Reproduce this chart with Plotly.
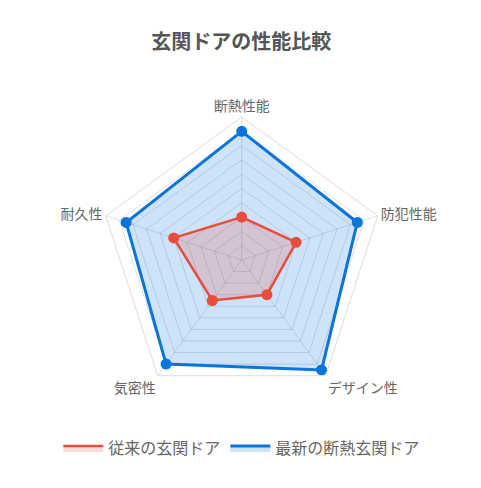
import plotly.graph_objects as go

# 性能項目（時計回り、上から）
categories = ["断熱性能", "防犯性能", "デザイン性", "気密性", "耐久性"]
old_door = [3, 4, 3, 3.5, 5]
new_door = [9, 8.5, 9.5, 9, 8.5]

series_names = ["従来の玄関ドア", "最新の断熱玄関ドア"]

RED = "#E74C3C"
BLUE = "#0A74DA"
RED_FILL = "rgba(231,76,60,0.2)"
BLUE_FILL = "rgba(10,116,218,0.2)"
FONT = "Noto Sans CJK JP"


def closed(vals):
    # 多角形を閉じるため先頭を末尾に追加
    return list(vals) + [vals[0]]


fig = go.Figure()

# Chart.jsと同じく先頭系列を上に描くため、青を先に追加
for vals, name, color, fill, width in [
        (new_door, series_names[1], BLUE, BLUE_FILL, 3),
        (old_door, series_names[0], RED, RED_FILL, 2.5)]:
    # 塗り + 線（凡例は塗りの箱）
    fig.add_trace(go.Scatterpolar(
        r=closed(vals), theta=closed(categories),
        name=name, mode="lines",
        fill="toself", fillcolor=fill,
        line=dict(color=color, width=width),
    ))
    # 頂点のマーカー
    fig.add_trace(go.Scatterpolar(
        r=vals, theta=categories,
        name=name, mode="markers", showlegend=False,
        marker=dict(color=color, size=11),
    ))

fig.update_layout(
    width=481, height=488,
    margin=dict(l=0, r=0, t=0, b=0),
    paper_bgcolor="white",
    font=dict(family=FONT, color="#666666"),
    title=dict(text="<b>玄関ドアの性能比較</b>", x=0.485, xanchor="center",
               y=0.930, yanchor="middle",
               font=dict(family=FONT, size=20, color="#555555")),
    polar=dict(
        domain=dict(x=[0.1886, 0.7832], y=[0.1906, 0.7766]),
        gridshape="linear",
        bgcolor="white",
        radialaxis=dict(range=[0, 10], dtick=1, showticklabels=False,
                        ticks="", showline=False,
                        gridcolor="rgba(0,0,0,0.12)", gridwidth=1),
        angularaxis=dict(rotation=90, direction="clockwise",
                         linecolor="#dddddd", linewidth=1,
                         gridcolor="rgba(0,0,0,0.12)", ticks="",
                         tickfont=dict(family=FONT, size=14, color="#666666")),
    ),
    legend=dict(orientation="h", x=0.486, xanchor="center",
                y=0.098, yanchor="middle", traceorder="reversed",
                font=dict(family=FONT, size=16, color="#666666"),
                itemwidth=40),
    showlegend=True,
)

fig.write_html("out.html")
